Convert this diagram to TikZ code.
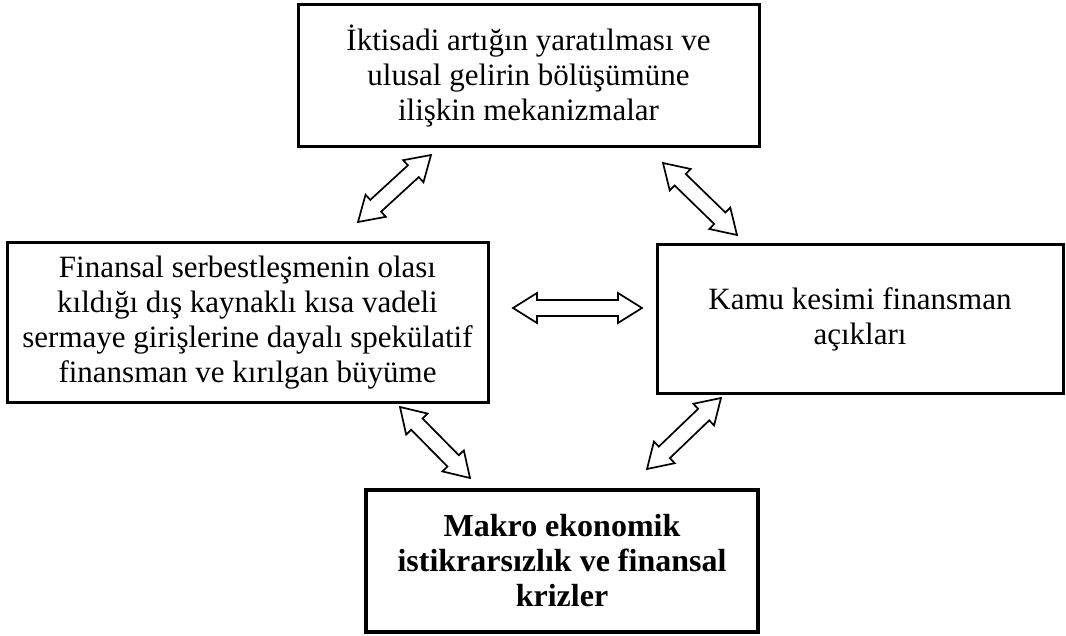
\documentclass[tikz,border=0pt]{standalone}
\usepackage{fontspec}
\setmainfont{Liberation Serif}
\usetikzlibrary{calc}
\tikzset{
  box/.style={draw=black, line width=3pt, inner sep=0pt, align=center,
    font=\fontsize{31}{35}\selectfont},
  boldbox/.style={box, line width=3.6pt, font=\fontsize{32}{35}\selectfont\bfseries},
  dblarrow/.style={draw=black, line width=1.7pt, fill=white, line join=miter,
    to path={
      -- ($(\tikztostart)!28.30pt!32.0:(\tikztotarget)$)
      -- ($(\tikztostart)!25.30pt!18.43:(\tikztotarget)$)
      -- ($(\tikztotarget)!25.30pt!-18.43:(\tikztostart)$)
      -- ($(\tikztotarget)!28.30pt!-32.0:(\tikztostart)$)
      -- (\tikztotarget)
      -- ($(\tikztotarget)!28.30pt!32.0:(\tikztostart)$)
      -- ($(\tikztotarget)!25.30pt!18.43:(\tikztostart)$)
      -- ($(\tikztostart)!25.30pt!-18.43:(\tikztotarget)$)
      -- ($(\tikztostart)!28.30pt!-32.0:(\tikztotarget)$)
      -- cycle}}
}
\begin{document}
\begin{tikzpicture}[x=1pt,y=1pt]
\useasboundingbox (0,0) rectangle (1066,-636);
\fill[white] (0,0) rectangle (1066,-636);

\node[box, minimum width=461pt, minimum height=142pt] (top) at (528.5,-76)
  {İktisadi artığın yaratılması ve\\ulusal gelirin bölüşümüne\\ilişkin mekanizmalar};
\node[box, minimum width=481pt, minimum height=159pt] (left) at (247.5,-322.5)
  {Finansal serbestleşmenin olası\\kıldığı dış kaynaklı kısa vadeli\\sermaye girişlerine dayalı spekülatif\\finansman ve kırılgan büyüme};
\node[box, minimum width=406pt, minimum height=148pt] (right) at (860,-319)
  {Kamu kesimi finansman\\açıkları};
\node[boldbox, minimum width=392pt, minimum height=142pt] (bottom) at (562,-561)
  {Makro ekonomik\\istikrarsızlık ve finansal\\krizler};

\coordinate (a1s) at (358,-222);
\coordinate (a1e) at (431,-155);
\coordinate (a2s) at (663,-163);
\coordinate (a2e) at (737,-235);
\coordinate (a3s) at (513,-308);
\coordinate (a3e) at (642,-308);
\coordinate (a4s) at (400,-407);
\coordinate (a4e) at (470,-478);
\coordinate (a5s) at (647,-469);
\coordinate (a5e) at (721,-398);

\draw[dblarrow] (a1s) to (a1e);
\draw[dblarrow] (a2s) to (a2e);
\draw[dblarrow] (a3s) to (a3e);
\draw[dblarrow] (a4s) to (a4e);
\draw[dblarrow] (a5s) to (a5e);
\end{tikzpicture}
\end{document}
